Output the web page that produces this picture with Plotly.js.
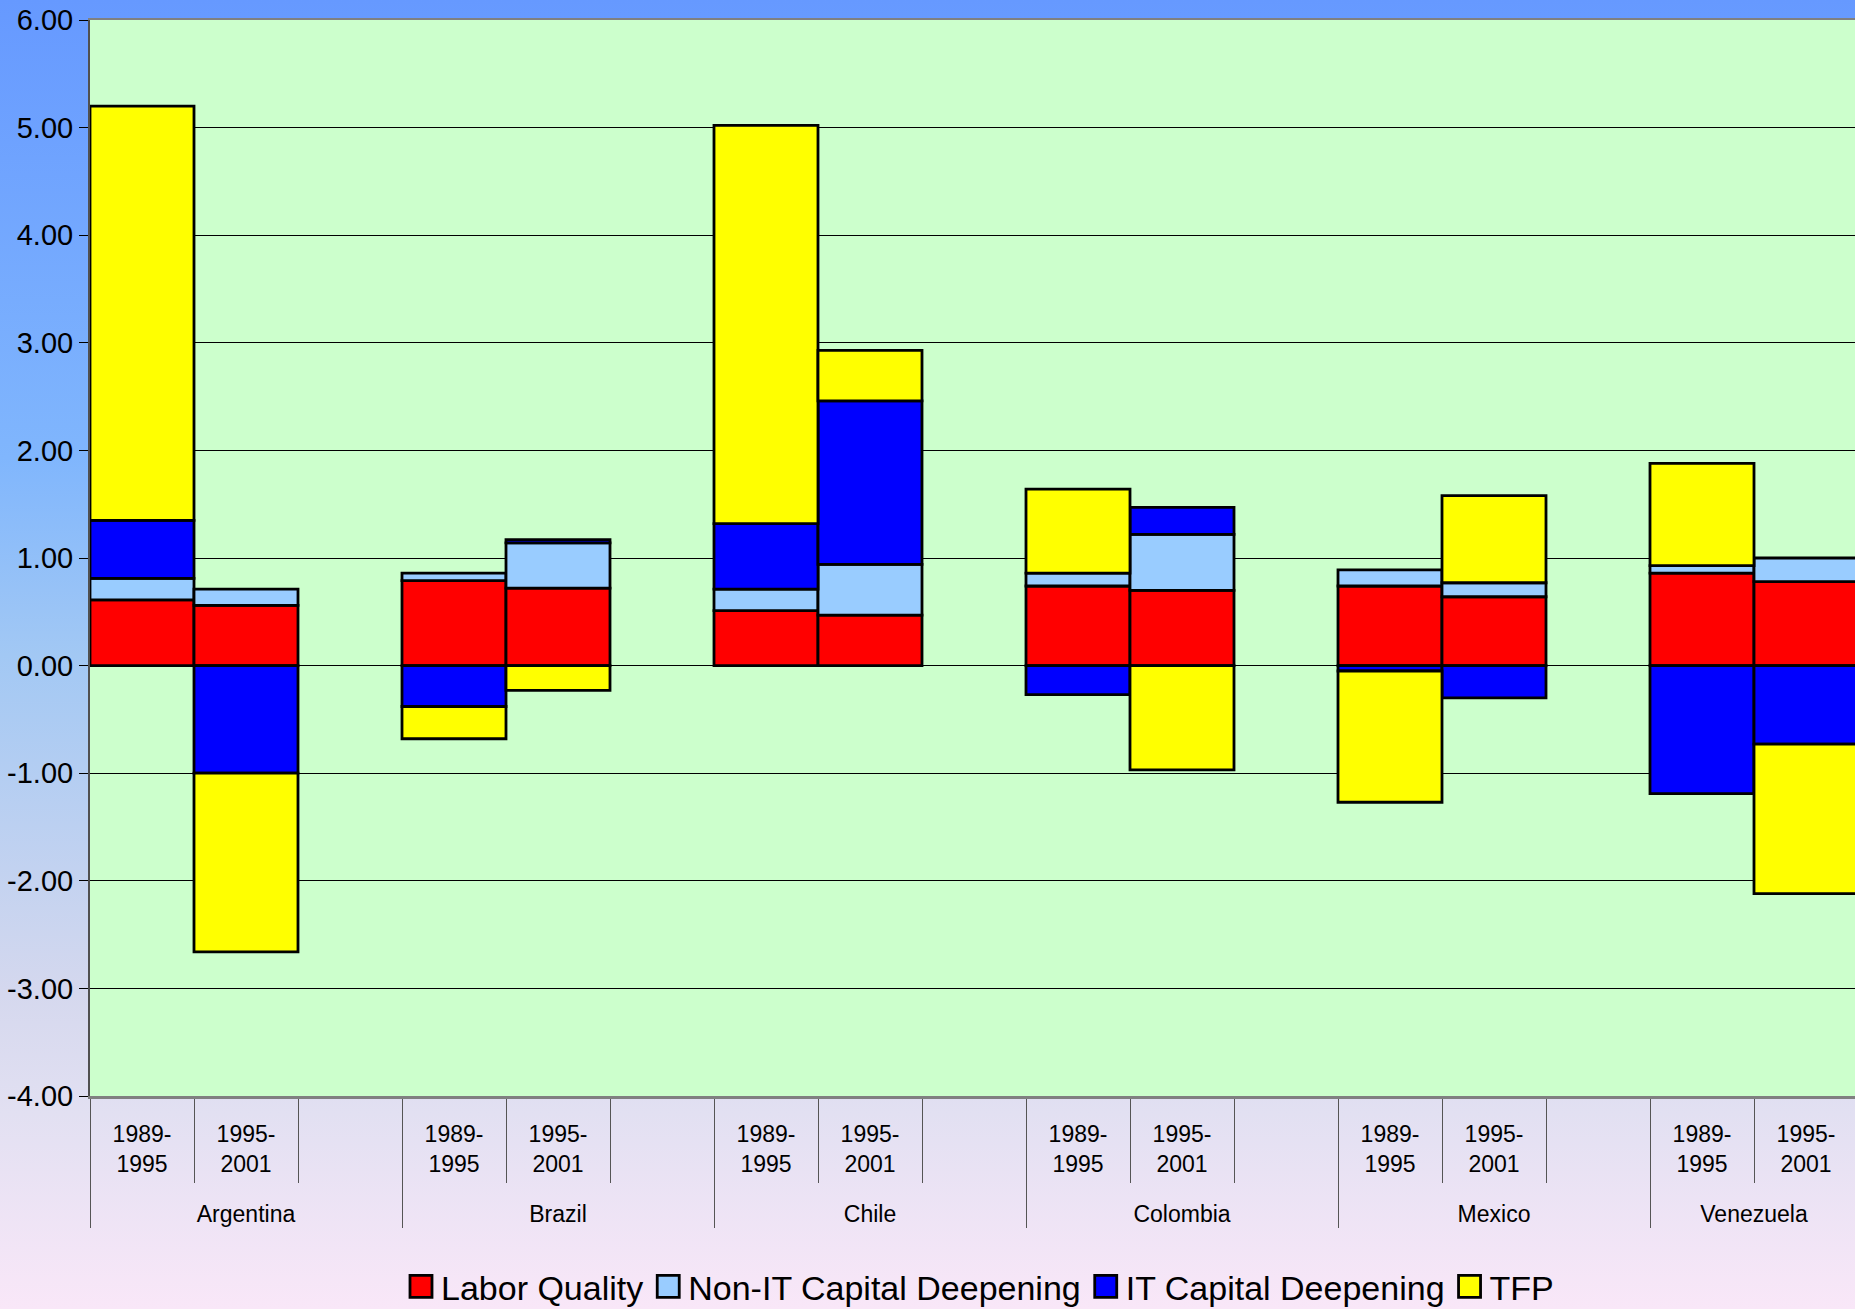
<!DOCTYPE html>
<html>
<head>
<meta charset="utf-8">
<script src="https://cdn.plot.ly/plotly-3.0.1.min.js"></script>
<style>
  html, body { margin: 0; padding: 0; overflow: hidden; width: 1855px; height: 1309px; }
  body {
    background: linear-gradient(to bottom, #6699FF 0%, #80B6FD 35%, #A2C8F4 50%, #D5D8EE 76%, #E2E0F2 85%, #F9E7F8 100%);
  }
  #chart { width: 1858px; height: 1309px; }
</style>
</head>
<body>
<div id="chart"></div>
<script>
// ---- data ----
const countries = ['Argentina', 'Brazil', 'Chile', 'Colombia', 'Mexico', 'Venezuela'];
const periodLabels = ['1989-<br>1995', '1995-<br>2001'];
const seriesNames = ['Labor Quality', 'Non-IT Capital Deepening', 'IT Capital Deepening', 'TFP'];
// values per country: [1989-1995, 1995-2001]
const laborQuality   = [0.61, 0.56,  0.79, 0.72,  0.51, 0.47,  0.74, 0.70,  0.74, 0.64,  0.86, 0.78];
const nonITCapital   = [0.20, 0.15,  0.07, 0.42,  0.20, 0.47,  0.12, 0.52,  0.15, 0.13,  0.07, 0.22];
const itCapital      = [0.54, -1.00, -0.38, 0.03, 0.61, 1.52, -0.27, 0.25, -0.05, -0.30, -1.19, -0.73];
const tfp            = [3.85, -1.66, -0.30, -0.23, 3.70, 0.47,  0.78, -0.97, -1.22, 0.81,  0.95, -1.39];
const yTickVals = [-4, -3, -2, -1, 0, 1, 2, 3, 4, 5, 6];
const yTickText = yTickVals.map(v => v.toFixed(2));

const colors = ['#FF0000', '#99CCFF', '#0000FF', '#FFFF00'];
const seriesValues = [laborQuality, nonITCapital, itCapital, tfp];

// spacer line below each period label (pushes the country row down)
const SPACER = '<br><span style="font-size:60px">\u00A0</span>';

// build multicategory x with an empty slot between countries
const xOuter = [], xInner = [];
countries.forEach((c, i) => {
  periodLabels.forEach(p => { xOuter.push(c); xInner.push(p + SPACER); });
  if (i < countries.length - 1) { xOuter.push(c); xInner.push(' '); }
});
function expand(vals) {
  const out = [];
  countries.forEach((c, i) => {
    out.push(vals[2 * i], vals[2 * i + 1]);
    if (i < countries.length - 1) out.push(null);
  });
  return out;
}

const FONT = 'Liberation Sans, Arial, sans-serif';
const traces = seriesValues.map((vals, k) => ({
  type: 'bar',
  name: seriesNames[k],
  x: [xOuter, xInner],
  y: expand(vals),
  marker: { color: colors[k], line: { color: '#000000', width: 2.8 } },
  hoverinfo: 'skip'
}));

const W = 1858;
const layout = {
  width: W,
  height: 1309,
  margin: { l: 90, r: 0, t: 20, b: 213 },
  paper_bgcolor: 'rgba(0,0,0,0)',
  plot_bgcolor: '#CCFFCC',
  barmode: 'relative',
  bargap: 0,
  showlegend: true,
  font: { family: FONT, color: '#000000' },
  xaxis: {
    type: 'multicategory',
    showgrid: false,
    zeroline: false,
    showline: true,
    linecolor: '#808080',
    linewidth: 2.5,
    mirror: true,
    ticks: 'outside',
    tickson: 'boundaries',
    ticklen: 84,
    tickwidth: 1,
    tickcolor: '#555555',
    ticklabelstandoff: 16,
    showdividers: true,
    dividercolor: '#555555',
    dividerwidth: 1,
    tickfont: { family: FONT, size: 23, color: '#000000' }
  },
  yaxis: {
    range: [-4, 6],
    tickvals: yTickVals,
    ticktext: yTickText,
    showgrid: true,
    gridcolor: '#000000',
    gridwidth: 1,
    zeroline: false,
    showline: true,
    linecolor: '#505050',
    linewidth: 2,
    mirror: true,
    ticks: 'outside',
    ticklen: 9,
    tickwidth: 1,
    tickcolor: '#000000',
    tickfont: { family: FONT, size: 29, color: '#000000' }
  },
  legend: {
    orientation: 'h',
    traceorder: 'normal',
    xref: 'container',
    yref: 'container',
    x: 980 / W,
    xanchor: 'center',
    y: 0.017,
    yanchor: 'middle',
    bgcolor: 'rgba(0,0,0,0)',
    font: { family: FONT, size: 34, color: '#000000' }
  }
};

function bigSwatches() {
  document.querySelectorAll('#chart .legendpoints path').forEach(p => p.setAttribute('d', 'M11,11H-11V-11H11Z'));
}
const gd = document.getElementById('chart');
Plotly.newPlot(gd, traces, layout, { displayModeBar: false, staticPlot: true }).then(() => {
  bigSwatches();
  gd.on && gd.on('plotly_afterplot', bigSwatches);
  setTimeout(bigSwatches, 50);
  setTimeout(bigSwatches, 300);
});
</script>
</body>
</html>
